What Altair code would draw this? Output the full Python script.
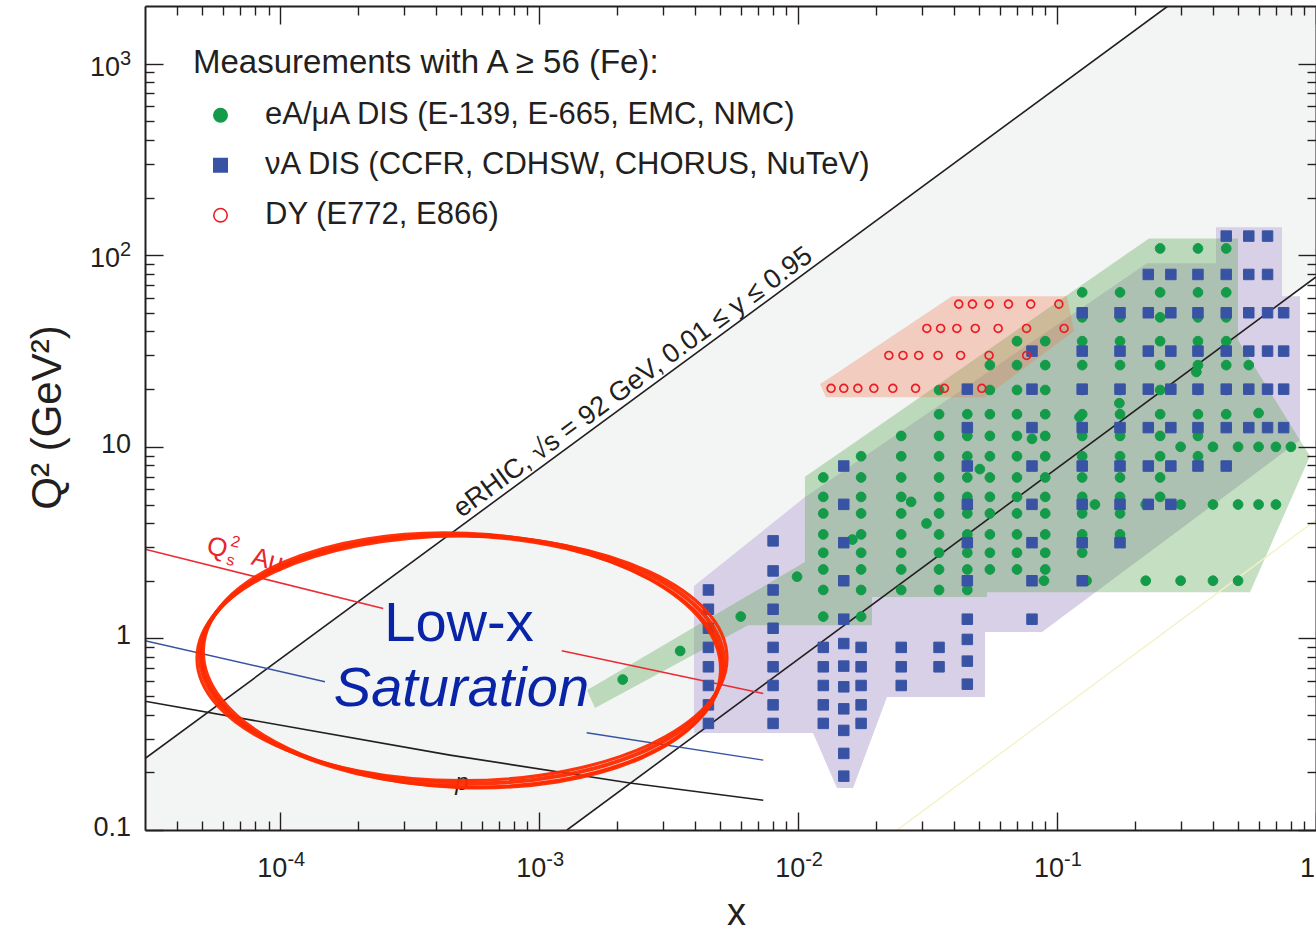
import altair as alt
import pandas as pd

FONT = "Liberation Sans"
INK = "#231f20"
W, H = 1171, 824
XS = alt.Scale(type="log", domain=[3e-5, 1.0], nice=False)
YS = alt.Scale(type="log", domain=[0.1, 2000.0], nice=False)

# ---------------- axis ticks ----------------
X_MAJOR = [1e-4, 1e-3, 1e-2, 1e-1, 1.0]
X_MINOR = [4e-5, 5e-5, 6e-5, 7e-5, 8e-5, 9e-5,
           2e-4, 3e-4, 4e-4, 5e-4, 6e-4, 7e-4, 8e-4, 9e-4,
           2e-3, 3e-3, 4e-3, 5e-3, 6e-3, 7e-3, 8e-3, 9e-3,
           0.02, 0.03, 0.04, 0.05, 0.06, 0.07, 0.08, 0.09,
           0.2, 0.3, 0.4, 0.5, 0.6, 0.7, 0.8, 0.9]
Y_MAJOR = [0.1, 1, 10, 100, 1000]
Y_MINOR = [0.2, 0.3, 0.4, 0.5, 0.6, 0.7, 0.8, 0.9,
           2, 3, 4, 5, 6, 7, 8, 9,
           20, 30, 40, 50, 60, 70, 80, 90,
           200, 300, 400, 500, 600, 700, 800, 900]

# ---------------- tick labels ----------------
X_POW_AT = [1e-4, 1e-3, 1e-2, 1e-1]
X_POW_EXP = ["-4", "-3", "-2", "-1"]
X_PLAIN_AT = [1.0]
X_PLAIN_TXT = ["1"]
Y_POW_AT = [1000, 100]
Y_POW_EXP = ["3", "2"]
Y_PLAIN_AT = [10, 1, 0.1]
Y_PLAIN_TXT = ["10", "1", "0.1"]

# ---------------- measurements ----------------
SERIES = ["eA/\u03bcA DIS (E-139, E-665, EMC, NMC)",
          "\u03bdA DIS (CCFR, CDHSW, CHORUS, NuTeV)",
          "DY (E772, E866)"]
C_GREEN, C_BLUE, C_RED = "#149b4a", "#3953a4", "#ec1c24"

# eA / muA DIS : x bin -> Q^2 values
GREEN_COLS = {
    0.0125: [6.92, 5.48, 4.49, 3.49, 2.80, 2.29, 1.79, 1.30],
    0.0175: [8.93, 6.92, 5.48, 4.49, 3.49, 2.80, 2.29, 1.79, 1.30],
    0.025: [11.4, 8.93, 6.92, 5.48, 4.49, 3.49, 2.80, 2.29, 1.79],
    0.035: [19.8, 14.8, 11.4, 8.93, 6.92, 5.48, 4.49, 3.49, 2.80, 2.29, 1.79],
    0.045: [14.8, 11.4, 8.93, 6.92, 5.48, 4.49, 3.49, 2.80, 2.29, 1.79],
    0.055: [26.7, 19.8, 14.8, 11.4, 8.93, 6.92, 5.48, 4.49, 3.49, 2.80, 2.29],
    0.07: [35.6, 26.7, 19.8, 14.8, 11.4, 8.93, 6.92, 5.48, 4.49, 3.49, 2.80, 2.29],
    0.09: [35.6, 26.7, 19.8, 14.8, 11.4, 8.93, 6.92, 5.48, 4.49, 3.49, 2.80, 2.29],
    0.125: [64.0, 47.4, 35.6, 26.7, 19.8, 14.8, 11.4, 8.93, 6.92, 5.48, 4.49, 3.49, 2.80],
    0.175: [64.0, 47.4, 35.6, 26.7, 19.8, 14.8, 11.4, 8.93, 6.92, 5.48, 4.49, 3.49],
    0.25: [108.5, 64.0, 47.4, 35.6, 26.7, 19.8, 14.8, 11.4, 8.93, 6.92, 5.48],
    0.35: [108.5, 64.0, 47.4, 35.6, 26.7, 19.8, 14.8, 11.4, 8.93],
    0.45: [108.5, 64.0, 47.4, 35.6, 26.7, 19.8, 14.8],
    0.55: [26.7],
}
E139_X = [0.089, 0.13, 0.22, 0.3, 0.4, 0.5,
          0.14, 0.22, 0.3, 0.4, 0.5, 0.6, 0.7,
          0.3, 0.4, 0.5, 0.6, 0.7, 0.8, 0.6]
E139_Q2 = [2, 2, 2, 2, 2, 2,
           5, 5, 5, 5, 5, 5, 5,
           10, 10, 10, 10, 10, 10, 15]
E665_X = [0.0021, 0.0035, 0.006, 0.0099, 0.0162, 0.0273, 0.0313, 0.0503, 0.080, 0.122, 0.174, 0.345]
E665_Q2 = [0.61, 0.86, 1.30, 2.1, 3.28, 5.16, 3.98, 7.65, 11.0, 14.3, 16.9, 24.6]

# nuA DIS : x bin -> Q^2 values
BLUE_COLS = {
    0.0045: [1.79, 1.42, 1.13, 0.898, 0.711, 0.568, 0.450, 0.360],
    0.008: [3.23, 2.25, 1.79, 1.42, 1.13, 0.898, 0.711, 0.568, 0.450, 0.360],
    0.0125: [0.898, 0.711, 0.568, 0.450, 0.360],
    0.015: [7.94, 5.01, 3.16, 2.0, 1.26, 0.94, 0.717, 0.559, 0.429, 0.331, 0.251, 0.191],
    0.0175: [0.898, 0.711, 0.568, 0.450, 0.360],
    0.025: [0.898, 0.711, 0.568],
    0.035: [0.898, 0.711],
    0.045: [20.0, 12.6, 7.94, 5.01, 3.16, 2.0, 1.26, 0.988, 0.761, 0.577],
    0.08: [31.6, 20.0, 12.6, 7.94, 5.01, 3.16, 2.0, 1.26],
    0.125: [50.1, 31.6, 20.0, 12.6, 7.94, 5.01, 3.16, 2.0],
    0.175: [50.1, 31.6, 20.0, 12.6, 7.94, 5.01, 3.16],
    0.225: [79.4, 50.1, 31.6, 20.0, 12.6, 7.94, 5.01],
    0.275: [79.4, 50.1, 31.6, 20.0, 12.6, 7.94, 5.01],
    0.35: [79.4, 50.1, 31.6, 20.0, 12.6, 7.94],
    0.45: [125.9, 79.4, 50.1, 31.6, 20.0, 12.6, 7.94],
    0.55: [125.9, 79.4, 50.1, 31.6, 20.0, 12.6],
    0.65: [125.9, 79.4, 50.1, 31.6, 20.0, 12.6],
    0.75: [50.1, 31.6, 20.0, 12.6],
}

# Drell-Yan : Q^2 row -> x values
DY_ROWS = {
    55.6: [0.0417, 0.0471, 0.0546, 0.0649, 0.0791, 0.1016],
    41.5: [0.0314, 0.0355, 0.0410, 0.0483, 0.0592, 0.0762, 0.1064],
    30.0: [0.0224, 0.0254, 0.0292, 0.0347, 0.0424, 0.0546, 0.0763],
    20.2: [0.0134, 0.0150, 0.0170, 0.0196, 0.0232, 0.0284, 0.0367, 0.0512],
}

# ---------------- shaded regions (x, lower Q2, upper Q2) ----------------
ERHIC_X = [3e-5, 1.28e-3, 0.268, 1.0]
ERHIC_LO = [0.1, 0.1, 20.7, 77.0]
ERHIC_HI = [0.236, 9.84, 2000.0, 2000.0]

NU_X = [3.958e-3, 0.01062, 0.01141, 0.01412, 0.01628, 0.02203, 0.05266, 0.052661,
        0.08744, 0.2224, 0.4110, 0.411001, 0.7390, 0.739001, 0.8673, 0.867301]
NU_LO = [0.3204, 0.3204, 0.3204, 0.1655, 0.1655, 0.4939, 0.4939, 1.079,
         1.079, 2.757, 5.114, 5.114, 9.227, 9.227, 10.84, 10.84]
NU_HI = [1.875, 5.465, 5.837, 7.108, 8.103, 10.72, 24.02, 24.02,
         38.37, 90.96, 90.96, 140.2, 140.2, 61.16, 61.16, 10.84]

EA_X = [1.528e-3, 1.641e-3, 6.399e-3, 0.01062, 0.010621, 0.01928, 0.019281, 0.05360,
        0.053601, 0.2264, 0.4996, 0.499601, 0.5561, 0.8673, 0.9480]
EA_LO = [0.5372, 0.4327, 1.173, 1.173, 1.173, 1.173, 1.643, 1.643,
         1.744, 1.744, 1.744, 1.744, 1.744, 6.808, 8.944]
EA_HI = [0.5372, 0.5684, 1.673, 2.502, 6.972, 12.18, 12.18, 31.74,
         31.74, 122.4, 122.4, 36.06, 28.55, 10.84, 8.944]

DYR_X = [0.01214, 0.01281, 0.03926, 0.05266, 0.1092, 0.1162]
DYR_LO = [21.25, 18.17, 18.17, 18.17, 37.73, 40.17]
DYR_HI = [21.25, 22.29, 61.16, 61.16, 61.16, 40.17]

# ---------------- curves ----------------
CURVES = [
    ("erhic_hi", [3e-5, 0.268], [0.236, 2000.0], INK, 1.6),
    ("erhic_lo", [1.28e-3, 1.0], [0.1, 77.0], INK, 1.6),
    ("faint", [0.0241, 1.0], [0.1, 4.15], "#f4f0c4", 1.3),
    ("au_a", [3e-5, 2.496e-4], [2.92, 1.434], "#ec2a33", 1.6),
    ("au_b", [1.221e-3, 7.33e-3], [0.862, 0.516], "#ec2a33", 1.6),
    ("ca_a", [3e-5, 1.487e-4], [0.974, 0.594], "#3652a3", 1.5),
    ("ca_b", [1.524e-3, 7.33e-3], [0.3216, 0.2316], "#3652a3", 1.5),
    ("p", [3e-5, 4.52e-4, 2.24e-3, 7.33e-3], [0.47, 0.246, 0.176, 0.143], INK, 1.6),
]

# ---------------- build tables ----------------
def region(xs, lo, hi):
    return pd.DataFrame({"x": xs, "lo": lo, "hi": hi})

g_rows = []
for xb, qs in GREEN_COLS.items():
    for q in qs:
        g_rows.append((xb, q))
g_rows += list(zip(E139_X, E139_Q2)) + list(zip(E665_X, E665_Q2))
green_df = pd.DataFrame(g_rows, columns=["x", "q2"]).assign(series=SERIES[0])

b_rows = []
for xb, qs in BLUE_COLS.items():
    for q in qs:
        b_rows.append((xb, q))
blue_df = pd.DataFrame(b_rows, columns=["x", "q2"]).assign(series=SERIES[1])

r_rows = []
for q, xs in DY_ROWS.items():
    for xv in xs:
        r_rows.append((xv, q))
red_df = pd.DataFrame(r_rows, columns=["x", "q2"]).assign(series=SERIES[2])

c_rows = []
for name, xs, qs, col, wd in CURVES:
    for k, (xv, q) in enumerate(zip(xs, qs)):
        c_rows.append((name, k, xv, q, col, wd))
curve_df = pd.DataFrame(c_rows, columns=["seg", "i", "x", "q2", "col", "wd"])

# ---------------- axes (ticks pointing inwards) ----------------
def axis(orient, values, size, **kw):
    d = dict(orient=orient, values=values, tickSize=size, labels=False, grid=False,
             ticks=True, tickColor=INK, tickWidth=1.4, domain=False, zindex=1, title=None,
             offset=-H if orient in ("top", "bottom") else -W)
    d.update(kw)
    return alt.Axis(**d)

FRAME = dict(domain=True, domainColor=INK, domainWidth=2)
AX_B_MAJ = axis("top", X_MAJOR, 18, title="x", titleX=591, titleY=94, titleAlign="center",
                titleBaseline="alphabetic", titleFont=FONT, titleFontSize=38,
                titleFontWeight="normal", titleColor=INK, **FRAME)
AX_B_MIN = axis("top", X_MINOR, 9)
AX_T_MAJ = axis("bottom", X_MAJOR, 18, **FRAME)
AX_T_MIN = axis("bottom", X_MINOR, 9)
AX_L_MAJ = axis("right", Y_MAJOR, 18, title="Q\u00b2 (GeV\u00b2)", titleAngle=270, titleX=-85,
                titleY=411, titleAlign="center", titleBaseline="alphabetic", titleFont=FONT,
                titleFontSize=42, titleFontWeight="normal", titleColor=INK, **FRAME)
AX_L_MIN = axis("right", Y_MINOR, 9)
AX_R_MAJ = axis("left", Y_MAJOR, 18, **FRAME)
AX_R_MIN = axis("left", Y_MINOR, 9)


def area(df, color, opacity, ax_x, ax_y):
    return alt.Chart(df).mark_area(fill=color, fillOpacity=opacity, strokeWidth=0).encode(
        x=alt.X("x:Q", scale=XS, axis=ax_x),
        y=alt.Y("lo:Q", scale=YS, axis=ax_y, stack=None),
        y2=alt.Y2("hi"),
    )


grey = area(region(ERHIC_X, ERHIC_LO, ERHIC_HI), "#f3f5f4", 1.0, AX_B_MAJ, AX_L_MAJ)
purple = area(region(NU_X, NU_LO, NU_HI), "#d8d0e6", 1.0, AX_B_MIN, AX_L_MIN)
green = area(region(EA_X, EA_LO, EA_HI), "#62a85a", 0.37, AX_T_MAJ, AX_R_MAJ)
salmon = area(region(DYR_X, DYR_LO, DYR_HI), "#f07850", 0.32, AX_T_MIN, AX_R_MIN)

curves = alt.Chart(curve_df).mark_line(clip=True).encode(
    x=alt.X("x:Q", scale=XS, axis=None),
    y=alt.Y("q2:Q", scale=YS, axis=None),
    detail="seg:N",
    order=alt.Order("i:Q"),
    color=alt.Color("col:N", scale=None),
    strokeWidth=alt.StrokeWidth("wd:Q", scale=None),
)

LEG = alt.Legend(
    title="Measurements with A \u2265 56 (Fe):", orient="none", legendX=48, legendY=40.7,
    titleFont=FONT, titleFontSize=33, titleFontWeight="normal", titleColor=INK,
    titleLimit=900, titlePadding=20, labelFont=FONT, labelFontSize=31, labelColor=INK,
    labelLimit=900, labelOffset=29, symbolSize=180, symbolStrokeWidth=1.6,
    symbolOffset=12, rowPadding=18, padding=0,
)


def points(df, size, sw):
    return alt.Chart(df).mark_point(filled=False, size=size, strokeWidth=sw, opacity=1).encode(
        x=alt.X("x:Q", scale=XS, axis=None),
        y=alt.Y("q2:Q", scale=YS, axis=None),
        color=alt.Color("series:N", legend=LEG,
                        scale=alt.Scale(domain=SERIES, range=[C_GREEN, C_BLUE, C_RED])),
        fill=alt.Fill("series:N", legend=LEG,
                      scale=alt.Scale(domain=SERIES, range=[C_GREEN, C_BLUE, "transparent"])),
        shape=alt.Shape("series:N", legend=LEG,
                        scale=alt.Scale(domain=SERIES, range=["circle", "square", "circle"])),
    )


pts_g = points(green_df, 95, 1.0)
pts_b = points(blue_df, 110, 1.0)
pts_r = points(red_df, 62, 1.7)


def text(df, **mk):
    return alt.Chart(df).mark_text(**mk).encode(
        x=alt.X("x:Q", scale=XS, axis=None),
        y=alt.Y("q2:Q", scale=YS, axis=None),
        text="t:N",
    )


TK = dict(font=FONT, color=INK)
xl_base = text(pd.DataFrame({"x": X_POW_AT, "q2": 0.1, "t": "10"}),
               align="right", baseline="alphabetic", dx=7, dy=47, fontSize=27, **TK)
xl_exp = text(pd.DataFrame({"x": X_POW_AT, "q2": 0.1, "t": X_POW_EXP}),
              align="left", baseline="alphabetic", dx=7, dy=36, fontSize=20, **TK)
xl_plain = text(pd.DataFrame({"x": X_PLAIN_AT, "q2": 0.1, "t": X_PLAIN_TXT}),
                align="right", baseline="alphabetic", dx=-1, dy=47, fontSize=27, **TK)
yl_base = text(pd.DataFrame({"x": 3e-5, "q2": Y_POW_AT, "t": "10"}),
               align="right", baseline="alphabetic", dx=-25, dy=12, fontSize=27, **TK)
yl_exp = text(pd.DataFrame({"x": 3e-5, "q2": Y_POW_AT, "t": Y_POW_EXP}),
              align="left", baseline="alphabetic", dx=-25, dy=1, fontSize=20, **TK)
yl_plain = text(pd.DataFrame({"x": 3e-5, "q2": Y_PLAIN_AT, "t": Y_PLAIN_TXT}),
                align="right", baseline="alphabetic", dx=-14, dy=6, fontSize=27, **TK)

# annotations
BLUE_TXT = "#0a24a8"
low_x = text(pd.DataFrame({"x": [4.896e-4], "q2": [0.968], "t": ["Low-x"]}),
             align="center", baseline="alphabetic", font=FONT, fontSize=56, color=BLUE_TXT)
satur = text(pd.DataFrame({"x": [5.005e-4], "q2": [0.4432], "t": ["Saturation"]}),
             align="center", baseline="alphabetic", font=FONT, fontSize=56,
             fontStyle="italic", color=BLUE_TXT)
erhic_lbl = text(pd.DataFrame({"x": [2.471e-3], "q2": [19.04],
                               "t": ["eRHIC, \u221as = 92 GeV, 0.01 \u2264 y \u2264 0.95"]}),
                 align="center", baseline="alphabetic", angle=323.7, dy=-5.5,
                 font=FONT, fontSize=27, color=INK)
AU_ANCHOR = pd.DataFrame({"x": [5.02e-5], "q2": [2.455]})
RED_TXT = "#e8242c"
qs_q = text(AU_ANCHOR.assign(t="Q"), align="left", baseline="alphabetic", angle=14,
            dx=0, dy=-11, font=FONT, fontSize=26, color=RED_TXT)
qs_2 = text(AU_ANCHOR.assign(t="2"), align="left", baseline="alphabetic", angle=14,
            dx=22, dy=-24, font=FONT, fontSize=16, color=RED_TXT)
qs_s = text(AU_ANCHOR.assign(t="s"), align="left", baseline="alphabetic", angle=14,
            dx=22, dy=-5, font=FONT, fontSize=16, color=RED_TXT)
qs_au = text(AU_ANCHOR.assign(t="Au"), align="left", baseline="alphabetic", angle=14,
             dx=46, dy=-11, font=FONT, fontSize=26, color=RED_TXT)
p_lbl = text(pd.DataFrame({"x": [5.028e-4], "q2": [0.1615], "t": ["p"]}),
             align="center", baseline="alphabetic", font=FONT, fontSize=24,
             fontStyle="italic", color=INK)

# hand-drawn red ring: several elliptical strokes
def ellipse_path(r):
    k = 0.5523
    return (f"M-1,0C-1,{-k*r:.4f} {-k:.4f},{-r:.4f} 0,{-r:.4f}"
            f"C{k:.4f},{-r:.4f} 1,{-k*r:.4f} 1,0"
            f"C1,{k*r:.4f} {k:.4f},{r:.4f} 0,{r:.4f}"
            f"C{-k:.4f},{r:.4f} -1,{k*r:.4f} -1,0Z")

RING_CENTER = (5.028e-4, 0.7797)
rings = []
for side, ratio, ang, dq, sw in [(524, 0.475, 1.0, 1.0, 4.0), (518, 0.49, 2.5, 0.985, 3.6),
                                 (530, 0.462, 0.0, 1.01, 3.2), (521, 0.482, 1.8, 0.975, 3.0)]:
    rings.append(
        alt.Chart(pd.DataFrame({"x": [RING_CENTER[0]], "q2": [RING_CENTER[1] * dq]}))
        .mark_point(shape=ellipse_path(ratio), size=side * side, filled=False,
                    stroke="#ff2a00", strokeWidth=sw, opacity=0.95, angle=ang)
        .encode(x=alt.X("x:Q", scale=XS, axis=None), y=alt.Y("q2:Q", scale=YS, axis=None))
    )

chart = alt.layer(
    grey, purple, green, salmon, curves, pts_g, pts_b, pts_r,
    xl_base, xl_exp, xl_plain, yl_base, yl_exp, yl_plain,
    low_x, satur, erhic_lbl, qs_q, qs_2, qs_s, qs_au, p_lbl, *rings,
).resolve_axis(x="independent", y="independent").properties(
    width=W, height=H,
    autosize=alt.AutoSizeParams(type="none"),
    padding={"left": 145, "top": 6, "right": 0, "bottom": 105},
    background="white",
).configure_view(stroke=None).configure(font=FONT)

chart.save("out.html", embed_options={"renderer": "svg", "actions": False})
